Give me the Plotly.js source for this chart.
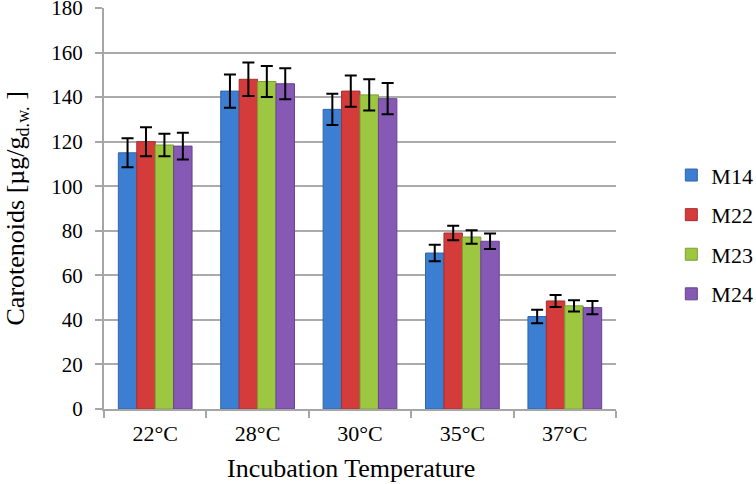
<!DOCTYPE html>
<html>
<head>
<meta charset="utf-8">
<script src="https://cdn.plot.ly/plotly-3.0.1.min.js"></script>
<style>html,body{margin:0;padding:0;background:#fff;}#chart{width:756px;height:484px;}</style>
</head>
<body>
<div id="chart"></div>
<script>
const categories = ["22°C", "28°C", "30°C", "35°C", "37°C"];
const seriesNames = ["M14", "M22", "M23", "M24"];
const M14 = [115, 142.7, 134.5, 70, 41.5];
const M22 = [120, 148, 142.7, 79, 48.5];
const M23 = [118.5, 147, 141, 77.2, 46.3];
const M24 = [118, 146, 139.3, 75.3, 45.5];
const M14err = [6.5, 7.5, 7, 3.7, 3];
const M22err = [6.5, 7.5, 7, 3.3, 2.7];
const M23err = [5, 7, 7, 3, 2.5];
const M24err = [6, 7, 7, 3.5, 3];
const colors = ["#3C7ED2", "#D43C3C", "#9DC740", "#8659B4"];
const lineColors = ["#2F65AA", "#A82E2E", "#7CA031", "#67428E"];
const xTitle = "Incubation Temperature";
const yTitle = "Carotenoids [µg/g<sub>d.w.</sub> ]";

const values = [M14, M22, M23, M24];
const errs = [M14err, M22err, M23err, M24err];

const traces = seriesNames.map((name, i) => ({
  type: "bar",
  name: name,
  legendgroup: name,
  x: categories,
  y: values[i],
  marker: {color: colors[i], line: {color: lineColors[i], width: 1}},
  error_y: {type: "data", array: errs[i], visible: true, color: "#000", thickness: 2, width: 6}
}));

const font = "Liberation Serif, serif";
const layout = {
  width: 756, height: 484,
  margin: {l: 104, r: 140, t: 8, b: 75},
  paper_bgcolor: "#fff", plot_bgcolor: "#fff",
  font: {family: font, size: 21, color: "#000"},
  barmode: "group",
  bargap: 0.28,
  bargroupgap: 0,
  showlegend: true,
  legend: {xref: "container", yref: "container", x: 0.888, y: 0.515, xanchor: "left", yanchor: "middle",
           font: {family: font, size: 22, color: "#000"}, tracegroupgap: 8, traceorder: "grouped"},
  xaxis: {
    type: "category",
    showgrid: false,
    showline: true, linecolor: "#A6A6A6", linewidth: 2,
    ticks: "outside", tickson: "boundaries", ticklen: 7, tickcolor: "#A6A6A6", tickwidth: 2,
    tickfont: {family: font, size: 22, color: "#000"},
    ticklabelstandoff: 4,
    zeroline: false
  },
  yaxis: {
    range: [0, 180], dtick: 20, tick0: 0,
    showgrid: true, gridcolor: "#ABABAB", gridwidth: 2,
    showline: true, linecolor: "#A6A6A6", linewidth: 2,
    ticks: "outside", ticklen: 7, tickcolor: "#A6A6A6", tickwidth: 2,
    tickfont: {family: font, size: 21, color: "#000"},
    ticklabeloverflow: "allow",
    ticklabelstandoff: 8,
    zeroline: false
  },
  annotations: [
    {text: xTitle, xref: "paper", yref: "paper", x: 0.482, y: -0.1496, xanchor: "center", yanchor: "middle",
     showarrow: false, font: {family: font, size: 26, color: "#000"}},
    {text: yTitle, xref: "paper", yref: "paper", x: 0, xshift: -88, y: 0.5, xanchor: "center", yanchor: "middle",
     textangle: -90, showarrow: false, font: {family: font, size: 26, color: "#000"}}
  ]
};

Plotly.newPlot("chart", traces, layout, {displayModeBar: false, staticPlot: true});
</script>
</body>
</html>
